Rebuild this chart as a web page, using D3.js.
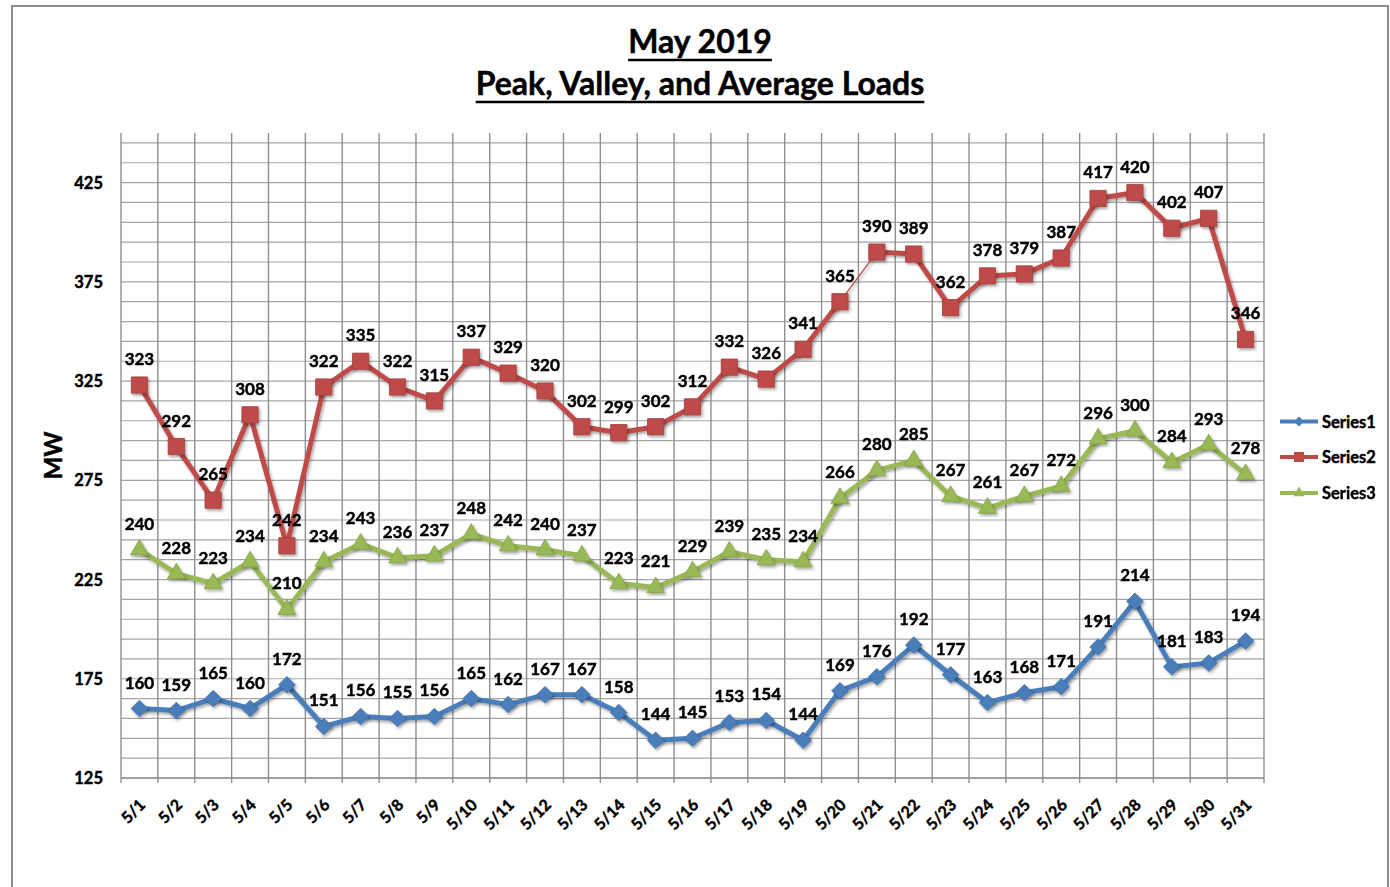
<!DOCTYPE html>
<html>
<head>
<meta charset="utf-8">
<script src="https://cdn.jsdelivr.net/npm/d3@7"></script>
<style>
  body { margin: 0; background: #fff; }
  svg  { display: block; font-family: Lato, "Open Sans", sans-serif; font-weight: bold; }
  .heavy { stroke: #000; stroke-width: 0.45; paint-order: stroke; }
</style>
</head>
<body>
<svg id="chart" width="1390" height="887"></svg>
<script>
/* ── Data ──────────────────────────────────────────────── */

const days = ['5/1','5/2','5/3','5/4','5/5','5/6','5/7','5/8','5/9','5/10',
  '5/11','5/12','5/13','5/14','5/15','5/16','5/17','5/18','5/19','5/20',
  '5/21','5/22','5/23','5/24','5/25','5/26','5/27','5/28','5/29','5/30','5/31'];

const series1 = [160,159,165,160,172,151,156,155,156,165,162,167,167,158,144,
  145,153,154,144,169,176,192,177,163,168,171,191,214,181,183,194];

const series2 = [323,292,265,308,242,322,335,322,315,337,329,320,302,299,302,
  312,332,326,341,365,390,389,362,378,379,387,417,420,402,407,346];

const series3 = [240,228,223,234,210,234,243,236,237,248,242,240,237,223,221,
  229,239,235,234,266,280,285,267,261,267,272,296,300,284,293,278];

const seriesNames = ['Series1', 'Series2', 'Series3'];
const yTicks      = [125, 175, 225, 275, 325, 375, 425];
const titleLines  = ['May 2019', 'Peak, Valley, and Average Loads'];

/* ── Styles ────────────────────────────────────────────── */

const COLORS  = ['#4a7ebb', '#be4b48', '#98b954'];
const STROKES = ['#3f6fa8', '#a23f3c', '#84a347'];
const SHAPES  = ['diamond', 'square', 'triangle'];
// Excel drew the Series2 5/20 → 5/21 segment with a hairline
const THIN_SEGMENT = { series: 1, from: 19 };

const svg = d3.select('#chart');
const plot = { left: 121, right: 1264, top: 133, bottom: 778 };

const x = d3.scaleBand().domain(days).range([plot.left, plot.right]);
const y = d3.scaleLinear().domain([125, 450]).range([plot.bottom, plot.top]);

// drop shadow for markers / lines
const defs = svg.append('defs');
defs.append('filter')
    .attr('id', 'shadow')
    .attr('x', '-50%').attr('y', '-50%')
    .attr('width', '200%').attr('height', '200%')
  .append('feDropShadow')
    .attr('dx', 1.5).attr('dy', 2)
    .attr('stdDeviation', 1.4)
    .attr('flood-color', '#000')
    .attr('flood-opacity', 0.35);

/* ── Frame + title ─────────────────────────────────────── */

svg.append('rect')
  .attr('x', 12).attr('y', 6)
  .attr('width', 1376).attr('height', 900)
  .attr('fill', 'none')
  .attr('stroke', '#8c8c8c')
  .attr('stroke-width', 2);

const titleY = [53, 95];
titleLines.forEach((t, i) => {
  const txt = svg.append('text')
    .attr('class', 'heavy')
    .attr('x', 700).attr('y', titleY[i])
    .attr('text-anchor', 'middle')
    .attr('font-size', 32)
    .attr('fill', '#000')
    .text(t);
  const bb = txt.node().getBBox();
  svg.append('line')
    .attr('x1', bb.x).attr('x2', bb.x + bb.width)
    .attr('y1', titleY[i] + 7).attr('y2', titleY[i] + 7)
    .attr('stroke', '#000')
    .attr('stroke-width', 2.5);
});

/* ── Grid ──────────────────────────────────────────────── */

const grid = svg.append('g').attr('class', 'grid');

grid.selectAll('line.h')
  .data(d3.range(125, 450, 10))
  .join('line')
    .attr('class', 'h')
    .attr('x1', plot.left).attr('x2', plot.right)
    .attr('y1', d => y(d)).attr('y2', d => y(d))
    .attr('stroke', '#a6a6a6')
    .attr('stroke-width', 1.2);

const bounds = days.map(d => x(d)).concat([plot.right]);
grid.selectAll('line.v')
  .data(bounds)
  .join('line')
    .attr('class', 'v')
    .attr('x1', d => d).attr('x2', d => d)
    .attr('y1', plot.top).attr('y2', plot.bottom + 5)
    .attr('stroke', '#8f8f8f')
    .attr('stroke-width', 1.4);

grid.append('line')
  .attr('x1', plot.left).attr('x2', plot.right)
  .attr('y1', plot.bottom).attr('y2', plot.bottom)
  .attr('stroke', '#8f8f8f')
  .attr('stroke-width', 1.6);

/* ── Axes labels ───────────────────────────────────────── */

svg.append('g')
  .selectAll('text')
  .data(yTicks)
  .join('text')
    .attr('class', 'heavy')
    .attr('x', 103)
    .attr('y', d => y(d) + 6)
    .attr('text-anchor', 'end')
    .attr('font-size', 16.5)
    .text(d => d);

svg.append('g')
  .selectAll('text')
  .data(days)
  .join('text')
    .attr('class', 'heavy')
    .attr('transform', d => `translate(${x(d) + x.bandwidth() / 2 + 7}, 806) rotate(-45)`)
    .attr('text-anchor', 'end')
    .attr('font-size', 16)
    .text(d => d);

svg.append('text')
  .attr('class', 'heavy')
  .attr('transform', `translate(62, ${(plot.top + plot.bottom) / 2}) rotate(-90)`)
  .attr('text-anchor', 'middle')
  .attr('font-size', 24)
  .text('MW');

/* ── Series ────────────────────────────────────────────── */

function marker(shape, scale) {
  const s = scale || 1;
  if (shape === 'diamond')  return d3.symbol(d3.symbolSquare, 136 * s * s)();
  if (shape === 'square')   return d3.symbol(d3.symbolSquare, 264 * s * s)();
  return d3.symbol(d3.symbolTriangle, 140 * s * s)();
}

const allSeries = [series1, series2, series3];
const cx = i => x(days[i]) + x.bandwidth() / 2;

allSeries.forEach((vals, si) => {
  const g = svg.append('g').attr('class', `series s${si}`);

  const segs = vals.slice(1).map((v, i) => ({ i, a: vals[i], b: v }));
  g.append('g').attr('filter', 'url(#shadow)')
    .selectAll('line')
    .data(segs)
    .join('line')
      .attr('x1', d => cx(d.i)).attr('y1', d => y(d.a))
      .attr('x2', d => cx(d.i + 1)).attr('y2', d => y(d.b))
      .attr('stroke', COLORS[si])
      .attr('stroke-linecap', 'round')
      .attr('stroke-width', d =>
        (si === THIN_SEGMENT.series && d.i === THIN_SEGMENT.from) ? 1.3 : 5);

  g.append('g').attr('filter', 'url(#shadow)')
    .selectAll('path')
    .data(vals)
    .join('path')
      .attr('d', marker(SHAPES[si]))
      .attr('transform', (d, i) =>
        `translate(${cx(i)}, ${y(d)})` + (SHAPES[si] === 'diamond' ? ' rotate(45)' : ''))
      .attr('fill', COLORS[si])
      .attr('stroke', STROKES[si])
      .attr('stroke-width', 0.8);
});

// data labels on top
allSeries.forEach((vals, si) => {
  svg.append('g')
    .selectAll('text')
    .data(vals)
    .join('text')
      .attr('class', 'heavy')
      .attr('x', (d, i) => cx(i))
      .attr('y', d => y(d) - 20)
      .attr('text-anchor', 'middle')
      .attr('font-size', 17)
      .attr('fill', '#000')
      .text(d => d);
});

/* ── Legend ────────────────────────────────────────────── */

const legend = svg.append('g').attr('class', 'legend');
const legY = [421.5, 457, 493];

seriesNames.forEach((name, si) => {
  const row = legend.append('g').attr('transform', `translate(1280, ${legY[si]})`);
  row.append('line')
    .attr('x1', 0).attr('x2', 38)
    .attr('stroke', COLORS[si])
    .attr('stroke-width', 4);
  row.append('path')
    .attr('d', marker(SHAPES[si], 0.62))
    .attr('transform', `translate(19, 0)` + (SHAPES[si] === 'diamond' ? ' rotate(45)' : ''))
    .attr('fill', COLORS[si]);
  row.append('text')
    .attr('class', 'heavy')
    .attr('x', 42).attr('y', 6)
    .attr('font-size', 16.5)
    .text(name);
});
</script>
</body>
</html>
